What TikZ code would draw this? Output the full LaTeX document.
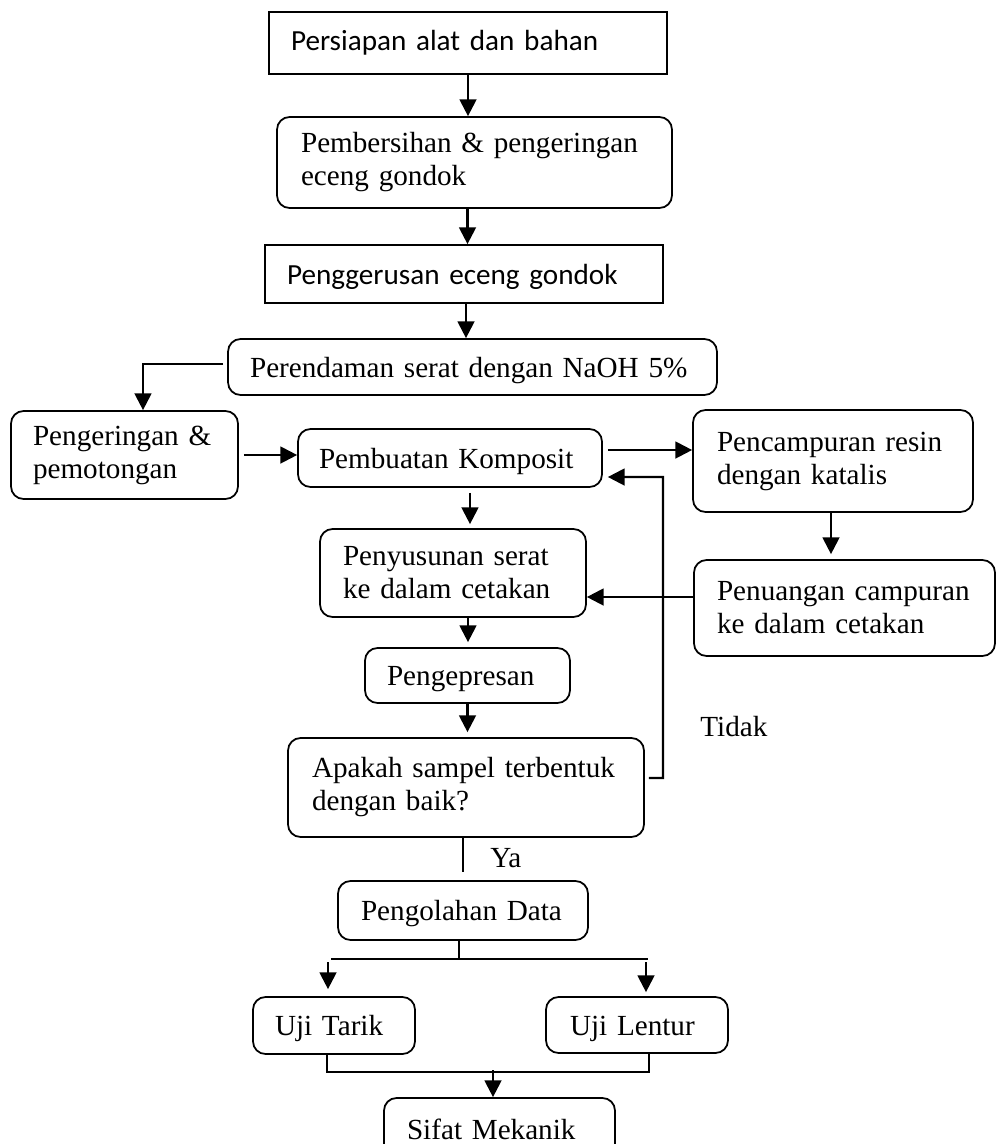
\documentclass[tikz,border=0pt]{standalone}
\usepackage{fontspec}
\setmainfont{Liberation Serif}
\newfontfamily\calib{Carlito}
\usetikzlibrary{arrows.meta}
\tikzset{
  base/.style={draw, line width=1pt, font=\fontsize{16.6}{18.8}\selectfont, align=left, inner ysep=0pt, anchor=center},
  rbox/.style={base, rounded corners=0.25cm},
  sbox/.style={base, font=\calib\fontsize{16.6}{18.8}\selectfont},
  oneline/.style={text height=11.4pt, text depth=0pt},
  arr/.style={line width=1.3pt, -{Triangle[width=9.5pt,length=9.5pt]}},
  ln/.style={line width=1.2pt},
  lbl/.style={inner sep=0pt, font=\fontsize{16.6}{18.8}\selectfont},
}
\begin{document}
\begin{tikzpicture}[x=0.02cm, y=-0.02cm]
\useasboundingbox[fill=white] (0,0) rectangle (996,1144);

\node[sbox, minimum width=7.96cm, minimum height=1.24cm, text width=7.08cm, inner xsep=0.44cm] (b1) at (468,43) {Persiapan~alat~dan~bahan};
\node[rbox, minimum width=7.9cm, minimum height=1.82cm, text width=6.94cm, inner xsep=0.48cm] (b2) at (474.5,162.5) {Pembersihan~\&~pengeringan\\eceng~gondok};
\node[sbox, oneline, minimum width=7.96cm, minimum height=1.16cm, text width=7.08cm, inner xsep=0.44cm] (b3) at (464,274) {Penggerusan~eceng~gondok};
\node[rbox, oneline, minimum width=9.78cm, minimum height=1.12cm, text width=8.9cm, inner xsep=0.44cm] (b4) at (472.5,367) {Perendaman~serat~dengan~NaOH~5\%};
\node[rbox, minimum width=4.54cm, minimum height=1.76cm, text width=3.66cm, inner xsep=0.44cm] (b5) at (124.5,455) {Pengeringan~\&\\pemotongan};
\node[rbox, oneline, minimum width=6.08cm, minimum height=1.16cm, text width=5.24cm, inner xsep=0.42cm] (b6) at (450,458) {Pembuatan~Komposit};
\node[rbox, minimum width=5.6cm, minimum height=2.04cm, text width=4.64cm, inner xsep=0.48cm] (b7) at (833,461) {Pencampuran~resin\\dengan~katalis};
\node[rbox, minimum width=6.02cm, minimum height=1.92cm, text width=5.1cm, inner xsep=0.46cm] (b8) at (844.5,608) {Penuangan~campuran\\ke~dalam~cetakan};
\node[rbox, minimum width=5.32cm, minimum height=1.76cm, text width=4.4cm, inner xsep=0.46cm] (b9) at (453,573) {Penyusunan~serat\\ke~dalam~cetakan};
\node[rbox, oneline, minimum width=4.1cm, minimum height=1.1cm, text width=3.22cm, inner xsep=0.44cm] (b10) at (467.5,675.5) {Pengepresan};
\node[rbox, minimum width=7.12cm, minimum height=1.98cm, text width=6.16cm, inner xsep=0.48cm] (b11) at (466,787.5) {Apakah~sampel~terbentuk\\dengan~baik?};
\node[rbox, oneline, minimum width=5.0cm, minimum height=1.18cm, text width=4.08cm, inner xsep=0.46cm] (b12) at (463,910.5) {Pengolahan~Data};
\node[rbox, oneline, minimum width=3.24cm, minimum height=1.14cm, text width=2.36cm, inner xsep=0.44cm] (b13) at (334,1025.5) {Uji~Tarik};
\node[rbox, oneline, minimum width=3.64cm, minimum height=1.12cm, text width=2.68cm, inner xsep=0.48cm] (b14) at (637,1025) {Uji~Lentur};
\node[rbox, oneline, minimum width=4.62cm, minimum height=1.24cm, text width=3.7cm, inner xsep=0.46cm] (b15) at (499.5,1129) {Sifat~Mekanik};

\node[lbl, anchor=base west] (tidak) at (700,736) {Tidak};
\node[lbl, anchor=base west] (ya) at (490,867) {Ya};

\coordinate (fb) at (663,477);
\coordinate (sp) at (459,959);
\coordinate (jn) at (493,1072);

\draw[arr] (b1.south) -- (b1.south |- b2.north);
\draw[arr] ([xshift=-0.14cm]b2.south) -- ([xshift=-0.14cm]b2.south |- b3.north);
\draw[arr] ([xshift=0.04cm]b3.south) -- ([xshift=0.04cm]b3.south |- b4.north);
\draw[arr] ([yshift=0.06cm,xshift=-0.08cm]b4.west) -| ([xshift=0.37cm]b5.north);
\draw[arr, shorten <=0.1cm] (b5.east) -- (b5.east -| b6.west);
\draw[arr, shorten <=0.1cm] ([yshift=0.16cm]b6.east) -- ([yshift=0.16cm]b6.east -| b7.west);
\draw[arr, shorten >=0.1cm] ([xshift=-0.04cm]b7.south) -- ([xshift=-0.04cm]b7.south |- b8.north);
\draw[arr] ([yshift=0.22cm]b8.west) -- ([yshift=0.22cm]b8.west -| b9.east);
\draw[arr, shorten <=0.1cm, shorten >=0.08cm] ([xshift=0.4cm]b6.south) -- ([xshift=0.4cm]b6.south |- b9.north);
\draw[arr, shorten >=0.1cm] ([xshift=0.3cm]b9.south) -- ([xshift=0.3cm]b9.south |- b10.north);
\draw[arr, shorten >=0.1cm] (b10.south) -- (b10.south |- b11.north);
\draw[arr, shorten >=0.1cm] ([yshift=0.19cm,xshift=0.08cm]b11.east) -| (fb) -- ([yshift=-0.38cm]b6.east);
\draw[ln] ([xshift=-0.06cm]b11.south) -- ([xshift=-0.06cm,yshift=0.16cm]b11.south |- b12.north);
\draw[ln] (b12.south -| sp) -- (sp);
\draw[ln] ([xshift=-0.06cm]b13.north |- sp) -- ([xshift=0.22cm]b14.north |- sp);
\draw[arr, shorten <=0.06cm, shorten >=0.14cm] ([xshift=-0.12cm]b13.north |- sp) -- ([xshift=-0.12cm]b13.north);
\draw[arr, shorten <=0.06cm, shorten >=0.08cm] ([xshift=0.18cm]b14.north |- sp) -- ([xshift=0.18cm]b14.north);
\draw[ln] ([xshift=-0.14cm]b13.south) |- ([xshift=0.24cm]b14.south |- jn) -- ([xshift=0.24cm]b14.south);
\draw[arr] ([yshift=0.04cm]jn) -- (jn |- b15.north);
\end{tikzpicture}
\end{document}
